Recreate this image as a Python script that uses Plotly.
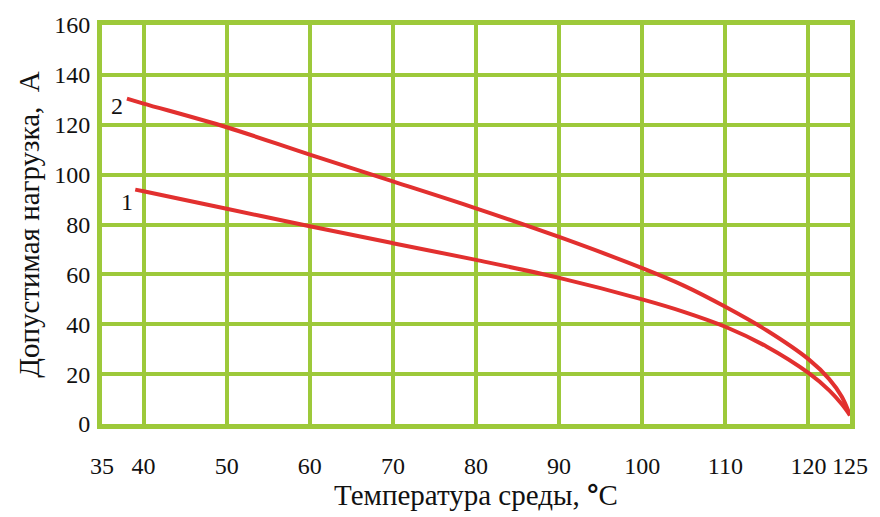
import plotly.graph_objects as go

# Curve 2 (upper)
x2 = [38, 40, 50, 60, 70, 80, 90, 100, 105, 110, 115, 120, 122.5, 124, 125]
y2 = [130.5, 128.5, 119, 108, 97.3, 86.5, 75, 62.5, 55.5, 47, 37.5, 26, 18, 11, 3.5]

# Curve 1 (lower)
x1 = [39, 40, 50, 60, 70, 80, 90, 100, 105, 110, 115, 120, 122.5, 124, 125]
y1 = [94, 93.3, 86.3, 79.3, 72.5, 65.8, 58.6, 50, 45, 39, 31, 20.5, 13.5, 8, 3.5]

x_ticks = [35, 40, 50, 60, 70, 80, 90, 100, 110, 120, 125]
y_ticks = [0, 20, 40, 60, 80, 100, 120, 140, 160]

curve_labels = ["1", "2"]
label_x = [38.0, 36.8]
label_y = [89, 127.5]

RED = "#E2302F"
GREEN = "#9DC93A"
FONT = "Liberation Serif, Times New Roman, serif"

fig = go.Figure()
fig.add_trace(go.Scatter(x=x2, y=y2, mode="lines", line=dict(color=RED, width=4, shape="spline"),
                         showlegend=False, hoverinfo="skip"))
fig.add_trace(go.Scatter(x=x1, y=y1, mode="lines", line=dict(color=RED, width=4, shape="spline"),
                         showlegend=False, hoverinfo="skip"))

for t, xx, yy in zip(curve_labels, label_x, label_y):
    fig.add_annotation(x=xx, y=yy, text=t, showarrow=False,
                       font=dict(family=FONT, size=24, color="#111"))

fig.update_layout(
    width=880, height=517,
    margin=dict(l=102, r=26, t=23, b=91),
    paper_bgcolor="white", plot_bgcolor="white",
    font=dict(family=FONT, color="#111"),
    xaxis=dict(
        range=[35, 125], tickvals=x_ticks, ticktext=[str(v) for v in x_ticks],
        showgrid=True, gridcolor=GREEN, gridwidth=4,
        showline=True, linecolor=GREEN, linewidth=5, mirror=True,
        zeroline=False, ticks="", ticklabelstandoff=16,
        tickfont=dict(family=FONT, size=24, color="#111"),
        title=dict(text="Температура среды, <span style='font-family:Liberation Sans'><b>°</b></span>C",
                   font=dict(family=FONT, size=29, color="#111"), standoff=6),
    ),
    yaxis=dict(
        range=[0, 160], tickvals=y_ticks,
        showgrid=True, gridcolor=GREEN, gridwidth=4,
        showline=True, linecolor=GREEN, linewidth=5, mirror=True,
        zeroline=False, ticks="", ticklabelstandoff=2,
        tickfont=dict(family=FONT, size=24, color="#111"),
        title=dict(text="Допустимая нагрузка,  А", font=dict(family=FONT, size=29, color="#111"), standoff=8),
    ),
)

fig.write_html("out.html", config={"displayModeBar": False},
               post_script="document.body.style.margin='0';")
